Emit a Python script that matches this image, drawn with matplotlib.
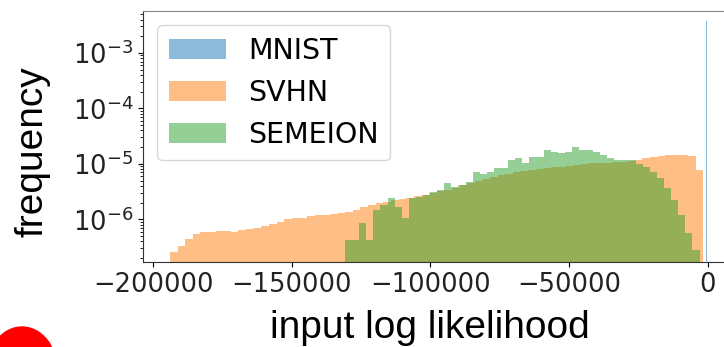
import numpy as np
import matplotlib.pyplot as plt
from matplotlib.patches import Ellipse

# density histograms of the input log likelihood, one per dataset
mnist_range = (-650, -150)
mnist_density = [2e-4, 6e-4, 1.4e-3, 2.6e-3, 3.9e-3, 3.8e-3, 3.2e-3, 2.4e-3, 1.3e-3, 6e-4]

svhn_range = (-194000, -1500)
svhn_density = [
    2.6e-7, 3.3e-7, 4.5e-7, 5.5e-7, 6.0e-7, 6.0e-7, 6.2e-7, 6.2e-7, 6.0e-7, 6.5e-7,
    6.8e-7, 7.0e-7, 7.6e-7, 8.3e-7, 9.0e-7, 1.02e-6, 1.06e-6, 1.06e-6, 1.16e-6, 1.2e-6,
    1.2e-6, 1.26e-6, 1.31e-6, 1.36e-6, 1.48e-6, 1.68e-6, 1.82e-6, 1.98e-6, 2.07e-6, 2.25e-6,
    2.34e-6, 2.44e-6, 2.65e-6, 2.76e-6, 3.0e-6, 3.26e-6, 3.4e-6, 3.7e-6, 4.2e-6, 4.55e-6,
    4.94e-6, 5.37e-6, 5.83e-6, 6.34e-6, 6.6e-6, 7.18e-6, 7.48e-6, 7.8e-6, 8.13e-6, 8.47e-6,
    8.83e-6, 8.83e-6, 9.2e-6, 9.6e-6, 1.0e-5, 1.04e-5, 1.04e-5, 1.04e-5, 1.09e-5, 1.09e-5,
    1.13e-5, 1.18e-5, 1.28e-5, 1.34e-5, 1.39e-5, 1.45e-5, 1.45e-5, 1.45e-5, 1.39e-5, 7.8e-6,
]

semeion_range = (-130800, -2900)
semeion_density = [
    4.3e-7, 4.3e-7, 8.6e-7, 4.3e-7, 1.48e-6, 1.82e-6, 2.44e-6, 1.68e-6, 1.06e-6, 2.44e-6,
    2.54e-6, 2.76e-6, 3.13e-6, 3.4e-6, 4.55e-6, 3.85e-6, 4.19e-6, 4.74e-6, 7.18e-6, 6.6e-6,
    7.18e-6, 8.47e-6, 8.47e-6, 1.18e-5, 1.28e-5, 1.04e-5, 1.34e-5, 1.34e-5, 1.79e-5, 1.64e-5,
    1.58e-5, 1.64e-5, 2.02e-5, 1.79e-5, 1.79e-5, 1.64e-5, 1.45e-5, 1.28e-5, 1.18e-5, 1.18e-5,
    1.18e-5, 1.0e-5, 8.83e-6, 7.18e-6, 5.6e-6, 3.7e-6, 2.25e-6, 1.2e-6, 5.7e-7, 2.8e-7,
]

xticks = [-200000, -150000, -100000, -50000, 0]

W, H = 724, 347
fig = plt.figure(figsize=(W / 100, H / 100), dpi=100)
ax = fig.add_axes([143 / W, 85 / H, 591 / W, 251 / H])

datasets = [
    ('MNIST', mnist_range, mnist_density, 'C0'),
    ('SVHN', svhn_range, svhn_density, 'C1'),
    ('SEMEION', semeion_range, semeion_density, 'C2'),
]
for name, (lo, hi), dens, col in datasets:
    edges = np.linspace(lo, hi, len(dens) + 1)
    ax.stairs(dens, edges, fill=True, color=col, alpha=0.5, label=name)

ax.set_yscale('log')
ax.set_ylim(1.7e-7, 5.7e-3)
ax.set_xlim(-203700, 9540)
ax.set_xticks(xticks)
ax.tick_params(labelsize=18.5, labelcolor='#222222')
for side in ['top', 'right']:
    ax.spines[side].set_color('#888888')
for side in ['left', 'bottom']:
    ax.spines[side].set_color('#333333')

ax.legend(loc='upper left', fontsize=20.5)

ax.set_xlabel('input log likelihood', fontsize=28, family='Liberation Sans')
ax.xaxis.set_label_coords(0.486, -0.19)
ax.set_ylabel('frequency', fontsize=28, family='Liberation Sans')
ax.yaxis.set_label_coords(-0.157, 0.44)

# red marker in the lower left corner (pixel coordinates, origin bottom left)
fig.patches.append(Ellipse((22, -23), 70, 86, transform=None, color='#ff0000'))

fig.savefig('out.png', dpi=100)
